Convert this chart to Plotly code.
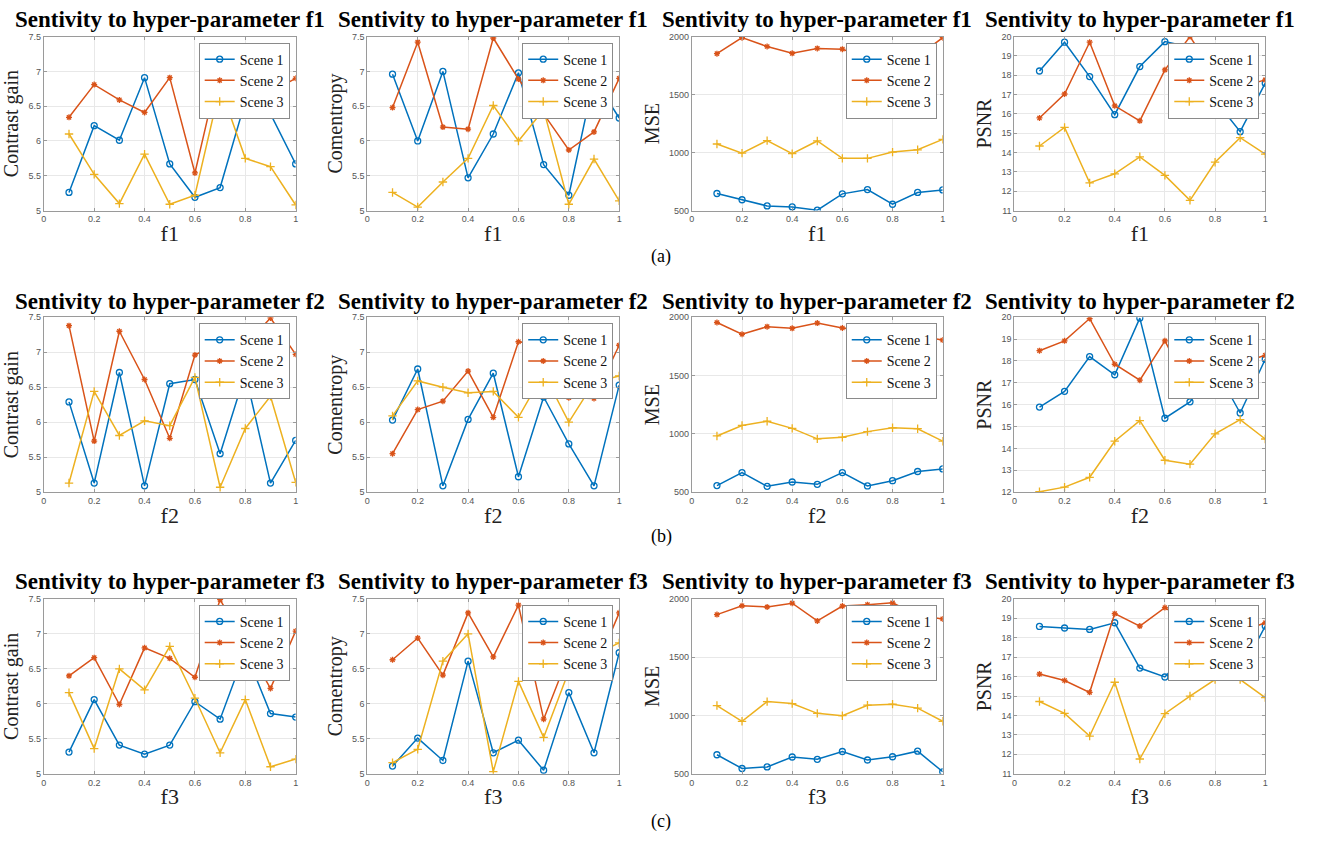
import plotly.graph_objects as go

# ---------------- data ----------------
x_vals = [0.1, 0.2, 0.3, 0.4, 0.5, 0.6, 0.7, 0.8, 0.9, 1.0]
scene_names = ["Scene 1", "Scene 2", "Scene 3"]
params = ["f1", "f2", "f3"]
metrics = ["Contrast gain", "Comentropy", "MSE", "PSNR"]
panel_labels = ["(a)", "(b)", "(c)"]

# f1
cg_f1_s1 = [5.26, 6.22, 6.01, 6.91, 5.67, 5.19, 5.33, 6.57, 6.39, 5.67]
cg_f1_s2 = [6.34, 6.81, 6.59, 6.41, 6.91, 5.54, 7.10, 7.30, 6.70, 6.90]
cg_f1_s3 = [6.10, 5.52, 5.10, 5.81, 5.09, 5.22, 6.78, 5.75, 5.63, 5.08]
cm_f1_s1 = [6.96, 6.00, 7.00, 5.47, 6.10, 6.98, 5.66, 5.22, 6.90, 6.33]
cm_f1_s2 = [6.48, 7.42, 6.20, 6.17, 7.48, 6.89, 6.39, 5.87, 6.13, 6.90]
cm_f1_s3 = [5.26, 5.05, 5.41, 5.75, 6.51, 6.00, 6.45, 5.09, 5.74, 5.14]
mse_f1_s1 = [647, 593, 540, 531, 503, 644, 681, 554, 656, 678]
mse_f1_s2 = [1853, 1991, 1915, 1856, 1898, 1892, 1810, 1800, 1830, 1991]
mse_f1_s3 = [1074, 995, 1103, 990, 1100, 950, 950, 1004, 1024, 1114]
psnr_f1_s1 = [18.22, 19.71, 17.93, 15.96, 18.45, 19.74, 19.45, 16.72, 15.08, 17.59]
psnr_f1_s2 = [15.79, 17.03, 19.71, 16.42, 15.64, 18.28, 20.00, 18.00, 17.40, 17.76]
psnr_f1_s3 = [14.34, 15.30, 12.43, 12.90, 13.78, 12.82, 11.53, 13.50, 14.77, 13.92]

# f2
cg_f2_s1 = [6.29, 5.13, 6.71, 5.09, 6.55, 6.61, 5.55, 6.70, 5.13, 5.74]
cg_f2_s2 = [7.38, 5.73, 7.30, 6.61, 5.77, 6.96, 7.15, 7.10, 7.49, 6.97]
cg_f2_s3 = [5.13, 6.44, 5.81, 6.02, 5.95, 6.64, 5.07, 5.91, 6.37, 5.14]
cm_f2_s1 = [6.03, 6.76, 5.09, 6.04, 6.70, 5.22, 6.36, 5.69, 5.09, 6.53]
cm_f2_s2 = [5.55, 6.18, 6.30, 6.73, 6.07, 7.15, 7.10, 6.35, 6.34, 7.10]
cm_f2_s3 = [6.09, 6.59, 6.50, 6.42, 6.44, 6.07, 6.70, 6.00, 6.57, 6.66]
mse_f2_s1 = [556, 668, 550, 587, 567, 668, 553, 598, 677, 699]
mse_f2_s2 = [1955, 1854, 1919, 1905, 1950, 1908, 1880, 1860, 1840, 1804]
mse_f2_s3 = [982, 1072, 1108, 1047, 957, 971, 1019, 1052, 1044, 937]
psnr_f2_s1 = [15.89, 16.61, 18.20, 17.37, 19.96, 15.38, 16.13, 17.70, 15.62, 18.08]
psnr_f2_s2 = [18.47, 18.92, 19.94, 17.85, 17.12, 18.92, 16.71, 17.60, 17.90, 18.26]
psnr_f2_s3 = [12.02, 12.23, 12.68, 14.33, 15.27, 13.46, 13.28, 14.67, 15.32, 14.43]

# f3
cg_f3_s1 = [5.31, 6.06, 5.41, 5.28, 5.41, 6.03, 5.78, 6.75, 5.86, 5.81]
cg_f3_s2 = [6.40, 6.66, 5.99, 6.80, 6.65, 6.38, 7.49, 6.85, 6.22, 7.04]
cg_f3_s3 = [6.16, 5.36, 6.50, 6.20, 6.82, 6.08, 5.30, 6.06, 5.10, 5.21]
cm_f3_s1 = [5.11, 5.51, 5.19, 6.61, 5.30, 5.48, 5.05, 6.16, 5.30, 6.73]
cm_f3_s2 = [6.63, 6.94, 6.41, 7.30, 6.67, 7.41, 5.78, 6.70, 6.45, 7.30]
cm_f3_s3 = [5.16, 5.35, 6.61, 7.00, 5.03, 6.32, 5.52, 6.47, 6.70, 6.87]
mse_f3_s1 = [663, 545, 559, 644, 624, 691, 618, 646, 694, 517]
mse_f3_s2 = [1865, 1941, 1930, 1963, 1811, 1938, 1950, 1966, 1860, 1828]
mse_f3_s3 = [1085, 950, 1119, 1102, 1018, 998, 1088, 1097, 1063, 950]
psnr_f3_s1 = [18.58, 18.50, 18.43, 18.77, 16.44, 15.98, 17.40, 17.80, 16.16, 18.60]
psnr_f3_s2 = [16.13, 15.80, 15.19, 19.24, 18.60, 19.55, 18.70, 18.40, 18.30, 18.77]
psnr_f3_s3 = [14.72, 14.11, 12.94, 15.71, 11.76, 14.09, 15.00, 15.85, 15.85, 14.92]

# axis ranges / ticks
y_ranges = {
    ("Contrast gain", "f1"): [5, 7.5], ("Comentropy", "f1"): [5, 7.5],
    ("MSE", "f1"): [500, 2000], ("PSNR", "f1"): [11, 20],
    ("Contrast gain", "f2"): [5, 7.5], ("Comentropy", "f2"): [5, 7.5],
    ("MSE", "f2"): [500, 2000], ("PSNR", "f2"): [12, 20],
    ("Contrast gain", "f3"): [5, 7.5], ("Comentropy", "f3"): [5, 7.5],
    ("MSE", "f3"): [500, 2000], ("PSNR", "f3"): [11, 20],
}
y_dticks = {"Contrast gain": 0.5, "Comentropy": 0.5, "MSE": 500, "PSNR": 1}

series = {
    ("Contrast gain", "f1"): [cg_f1_s1, cg_f1_s2, cg_f1_s3],
    ("Comentropy", "f1"): [cm_f1_s1, cm_f1_s2, cm_f1_s3],
    ("MSE", "f1"): [mse_f1_s1, mse_f1_s2, mse_f1_s3],
    ("PSNR", "f1"): [psnr_f1_s1, psnr_f1_s2, psnr_f1_s3],
    ("Contrast gain", "f2"): [cg_f2_s1, cg_f2_s2, cg_f2_s3],
    ("Comentropy", "f2"): [cm_f2_s1, cm_f2_s2, cm_f2_s3],
    ("MSE", "f2"): [mse_f2_s1, mse_f2_s2, mse_f2_s3],
    ("PSNR", "f2"): [psnr_f2_s1, psnr_f2_s2, psnr_f2_s3],
    ("Contrast gain", "f3"): [cg_f3_s1, cg_f3_s2, cg_f3_s3],
    ("Comentropy", "f3"): [cm_f3_s1, cm_f3_s2, cm_f3_s3],
    ("MSE", "f3"): [mse_f3_s1, mse_f3_s2, mse_f3_s3],
    ("PSNR", "f3"): [psnr_f3_s1, psnr_f3_s2, psnr_f3_s3],
}

# ---------------- style / layout ----------------
W, H = 1322, 843
colors = ["#0072BD", "#D95319", "#EDB120"]
symbols = ["circle-open", "asterisk-open", "cross-thin-open"]
msizes = [6, 5, 6]
SERIF = "'Liberation Serif', 'Times New Roman', Times, serif"
SANS = "'Liberation Sans', Arial, Helvetica, sans-serif"
cols_px = [(41, 294), (366, 619), (692, 944), (1016, 1268)]
rows_px = [(32, 208), (316, 493), (601, 778)]
title_y_px = [15, 300, 583]
label_y_px = [255, 538, 826]


def px_x(p):
    return p / W


def px_y(p):
    return 1 - p / H


fig = go.Figure()
annotations = []
layout = {}

for r, prm in enumerate(params):
    for c, met in enumerate(metrics):
        n = r * 4 + c + 1
        xa = "x" if n == 1 else f"x{n}"
        ya = "y" if n == 1 else f"y{n}"
        lg = "legend" if n == 1 else f"legend{n}"
        for s in range(3):
            fig.add_trace(go.Scatter(
                x=x_vals, y=series[(met, prm)][s], name=scene_names[s],
                mode="lines+markers", xaxis=xa, yaxis=ya, legend=lg,
                line=dict(color=colors[s], width=1.5),
                marker=dict(symbol=symbols[s], size=msizes[s], color=colors[s],
                            line=dict(width=1.3, color=colors[s])),
            ))
        x0, x1 = cols_px[c]
        y0, y1 = rows_px[r]
        axis_common = dict(
            showline=True, linecolor="#9a9a9a", linewidth=1, mirror="ticks",
            ticks="inside", ticklen=3, tickcolor="#9a9a9a",
            showgrid=True, gridcolor="#e8e8e8", gridwidth=1, zeroline=False,
            tickfont=dict(family=SANS, size=9, color="#555555"),
        )
        layout[f"xaxis{'' if n == 1 else n}"] = dict(
            axis_common, domain=[px_x(x0), px_x(x1)], anchor=ya,
            range=[0, 1], tickvals=[0, 0.2, 0.4, 0.6, 0.8, 1],
            title=dict(text=prm, font=dict(family=SERIF, size=22, color="#222"), standoff=2),
        )
        yr = y_ranges[(met, prm)]
        layout[f"yaxis{'' if n == 1 else n}"] = dict(
            axis_common, domain=[px_y(y1), px_y(y0)], anchor=xa,
            range=yr, dtick=y_dticks[met], tick0=yr[0],
            title=dict(text=met, font=dict(family=SERIF, size=20, color="#222"), standoff=4),
        )
        layout[lg] = dict(
            x=px_x(x1 - 6), y=px_y(y0 + 6), xanchor="right", yanchor="top",
            bgcolor="white", bordercolor="#8a8a8a", borderwidth=1,
            font=dict(family=SERIF, size=14, color="#111"),
            tracegroupgap=0, itemwidth=30,
        )
        annotations.append(dict(
            text=f"<b>Sentivity to hyper-parameter {prm}</b>",
            x=px_x((x0 + x1) / 2), y=px_y(title_y_px[r]), xref="paper", yref="paper",
            xanchor="center", yanchor="middle", showarrow=False,
            font=dict(family=SERIF, size=23, color="black"),
        ))
    annotations.append(dict(
        text=panel_labels[r], x=0.5, y=px_y(label_y_px[r]), xref="paper", yref="paper",
        xanchor="center", yanchor="middle", showarrow=False,
        font=dict(family=SERIF, size=18, color="black"),
    ))

fig.update_layout(
    width=W, height=H, margin=dict(l=0, r=0, t=0, b=0),
    paper_bgcolor="white", plot_bgcolor="white",
    annotations=annotations, **layout,
)

fig.write_html("out.html")
